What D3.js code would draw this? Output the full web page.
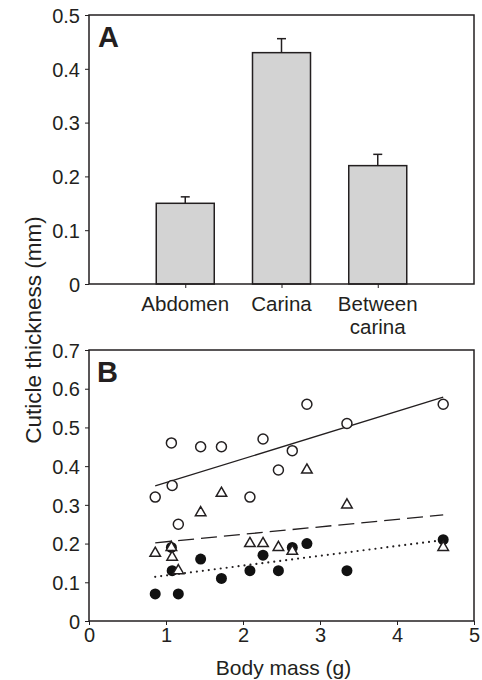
<!DOCTYPE html>
<html>
<head>
<meta charset="utf-8">
<script src="https://cdn.jsdelivr.net/npm/d3@7"></script>
<style>
  body { margin: 0; background: #fff; }
  svg { font-family: "Liberation Sans", Arial, sans-serif; }
  .axis text { fill: #231f20; }
  .axis path, .axis line { stroke: #231f20; }
</style>
</head>
<body>
<div id="svg-container"></div>
<script>
// panel A: mean cuticle thickness per region
const regions = ["Abdomen", "Carina", "Between carina"];
const regionMeans = [0.15, 0.43, 0.22];
const regionErrors = [0.012, 0.026, 0.021];
const aTicks = [0, 0.1, 0.2, 0.3, 0.4, 0.5];

// panel B: thickness vs body mass, one value per animal
const bodyMass = [0.86, 1.07, 1.08, 1.16, 1.45, 1.72, 2.09, 2.26, 2.46, 2.64, 2.83, 3.35, 4.6];
const carina = [0.32, 0.46, 0.35, 0.25, 0.45, 0.45, 0.32, 0.47, 0.39, 0.44, 0.56, 0.51, 0.56];
const betweenCarina = [0.175, 0.19, 0.165, 0.13, 0.28, 0.33, 0.2, 0.2, 0.19, 0.18, 0.39, 0.3, 0.19];
const abdomen = [0.07, 0.19, 0.13, 0.07, 0.16, 0.11, 0.13, 0.17, 0.13, 0.19, 0.2, 0.13, 0.21];
// fitted lines: [x start, x end], [y start, y end]
const fitX = [0.86, 4.6];
const fitCarina = [0.349, 0.578];
const fitBetween = [0.202, 0.274];
const fitAbdomen = [0.114, 0.209];
const bXTicks = [0, 1, 2, 3, 4, 5];
const bYTicks = [0, 0.1, 0.2, 0.3, 0.4, 0.5, 0.6, 0.7];

const width = 482;
const height = 680;
const ink = "#231f20";

const svg = d3.select("#svg-container").append("svg")
  .attr("width", width).attr("height", height);

const left = 89, right = 474;

// ---------- panel A ----------
const yA = d3.scaleLinear().domain([0, 0.5]).range([284, 15]);
const xA = d3.scalePoint().domain(regions).range([left, right]).padding(1);

const gA = svg.append("g");

gA.append("g")
  .attr("class", "axis")
  .attr("transform", `translate(${left},0)`)
  .call(d3.axisLeft(yA).tickValues(aTicks).tickFormat(d => d === 0 ? "0" : d3.format(".1f")(d))
    .tickSize(4).tickPadding(5).tickSizeOuter(0))
  .call(g => g.select(".domain").remove())
  .call(g => g.selectAll("text").style("font-size", "20px").attr("dy", "0.36em"));

gA.append("g")
  .attr("class", "axis")
  .attr("transform", `translate(0,${yA(0)})`)
  .call(d3.axisBottom(xA).tickSize(4).tickSizeOuter(0).tickFormat(""))
  .call(g => g.select(".domain").remove());

// category labels (two lines for the last one)
regions.forEach((r, i) => {
  const t = gA.append("text")
    .attr("x", xA(r))
    .attr("y", 311)
    .attr("text-anchor", "middle")
    .attr("fill", ink)
    .style("font-size", "20.5px");
  const words = r === "Between carina" ? ["Between", "carina"] : [r];
  words.forEach((w, j) => {
    t.append("tspan").attr("x", xA(r)).attr("dy", j === 0 ? 0 : "1.1em").text(w);
  });
});

const barW = 58;
gA.selectAll(".bar")
  .data(regions)
  .enter()
  .append("rect")
  .attr("class", "bar")
  .attr("x", d => xA(d) - barW / 2)
  .attr("y", (d, i) => yA(regionMeans[i]))
  .attr("width", barW)
  .attr("height", (d, i) => yA(0) - yA(regionMeans[i]))
  .attr("fill", "#d3d3d3")
  .attr("stroke", ink)
  .attr("stroke-width", 1.5);

regions.forEach((r, i) => {
  const top = yA(regionMeans[i] + regionErrors[i]);
  gA.append("line")
    .attr("x1", xA(r)).attr("x2", xA(r))
    .attr("y1", yA(regionMeans[i])).attr("y2", top)
    .attr("stroke", ink).attr("stroke-width", 1.5);
  gA.append("line")
    .attr("x1", xA(r) - 4.5).attr("x2", xA(r) + 4.5)
    .attr("y1", top).attr("y2", top)
    .attr("stroke", ink).attr("stroke-width", 1.5);
});

gA.append("rect")
  .attr("x", left).attr("y", yA(0.5))
  .attr("width", right - left).attr("height", yA(0) - yA(0.5))
  .attr("fill", "none").attr("stroke", ink).attr("stroke-width", 1.5);

gA.append("text")
  .attr("x", 98).attr("y", 47)
  .attr("fill", ink)
  .style("font-size", "29px").style("font-weight", "bold")
  .text("A");

// ---------- panel B ----------
const xB = d3.scaleLinear().domain([0, 5]).range([left, right]);
const yB = d3.scaleLinear().domain([0, 0.7]).range([621, 350]);

const gB = svg.append("g");

gB.append("g")
  .attr("class", "axis")
  .attr("transform", `translate(${left},0)`)
  .call(d3.axisLeft(yB).tickValues(bYTicks).tickFormat(d => d === 0 ? "0" : d3.format(".1f")(d))
    .tickSize(4).tickPadding(5).tickSizeOuter(0))
  .call(g => g.select(".domain").remove())
  .call(g => g.selectAll("text").style("font-size", "20px").attr("dy", "0.36em"));

gB.append("g")
  .attr("class", "axis")
  .attr("transform", `translate(0,${yB(0)})`)
  .call(d3.axisBottom(xB).tickValues(bXTicks).tickFormat(d3.format("d"))
    .tickSize(4).tickPadding(3).tickSizeOuter(0))
  .call(g => g.select(".domain").remove())
  .call(g => g.selectAll("text").style("font-size", "20px"));

gB.append("rect")
  .attr("x", left).attr("y", yB(0.7))
  .attr("width", right - left).attr("height", yB(0) - yB(0.7))
  .attr("fill", "none").attr("stroke", ink).attr("stroke-width", 1.5);

gB.append("text")
  .attr("x", 97).attr("y", 382)
  .attr("fill", ink)
  .style("font-size", "29px").style("font-weight", "bold")
  .text("B");

const line = d3.line().x(d => xB(d[0])).y(d => yB(d[1]));
const addFit = (ys, dash) => {
  gB.append("path")
    .datum(fitX.map((x, i) => [x, ys[i]]))
    .attr("fill", "none")
    .attr("stroke", ink)
    .attr("stroke-width", dash === "dot" ? 2.2 : 1.3)
    .attr("stroke-linecap", dash === "dot" ? "round" : "butt")
    .style("stroke-dasharray", dash === "dot" ? "0, 6" : dash === "dash" ? "16, 7" : null)
    .attr("d", line);
};
addFit(fitCarina, null);
addFit(fitBetween, "dash");
addFit(fitAbdomen, "dot");

// filled circles: abdomen
gB.selectAll(".abd")
  .data(bodyMass)
  .enter()
  .append("circle")
  .attr("class", "abd")
  .attr("cx", d => xB(d))
  .attr("cy", (d, i) => yB(abdomen[i]))
  .attr("r", 5.5)
  .attr("fill", "#111");

// open circles: carina
gB.selectAll(".car")
  .data(bodyMass)
  .enter()
  .append("circle")
  .attr("class", "car")
  .attr("cx", d => xB(d))
  .attr("cy", (d, i) => yB(carina[i]))
  .attr("r", 5)
  .attr("fill", "#fff")
  .attr("stroke", ink)
  .attr("stroke-width", 1.5);

// open triangles: between carina
const tri = d3.symbol().type(d3.symbolTriangle).size(48);
gB.selectAll(".btw")
  .data(bodyMass)
  .enter()
  .append("path")
  .attr("class", "btw")
  .attr("transform", (d, i) => `translate(${xB(d)},${yB(betweenCarina[i])})`)
  .attr("d", tri)
  .attr("fill", "#fff")
  .attr("stroke", ink)
  .attr("stroke-width", 1.5);

// axis titles
svg.append("text")
  .attr("transform", `translate(41,330) rotate(-90)`)
  .attr("text-anchor", "middle")
  .attr("fill", ink)
  .style("font-size", "22.5px")
  .text("Cuticle thickness (mm)");

svg.append("text")
  .attr("x", (left + right) / 2 + 2)
  .attr("y", 675)
  .attr("text-anchor", "middle")
  .attr("fill", ink)
  .style("font-size", "21px")
  .text("Body mass (g)");
</script>
</body>
</html>
